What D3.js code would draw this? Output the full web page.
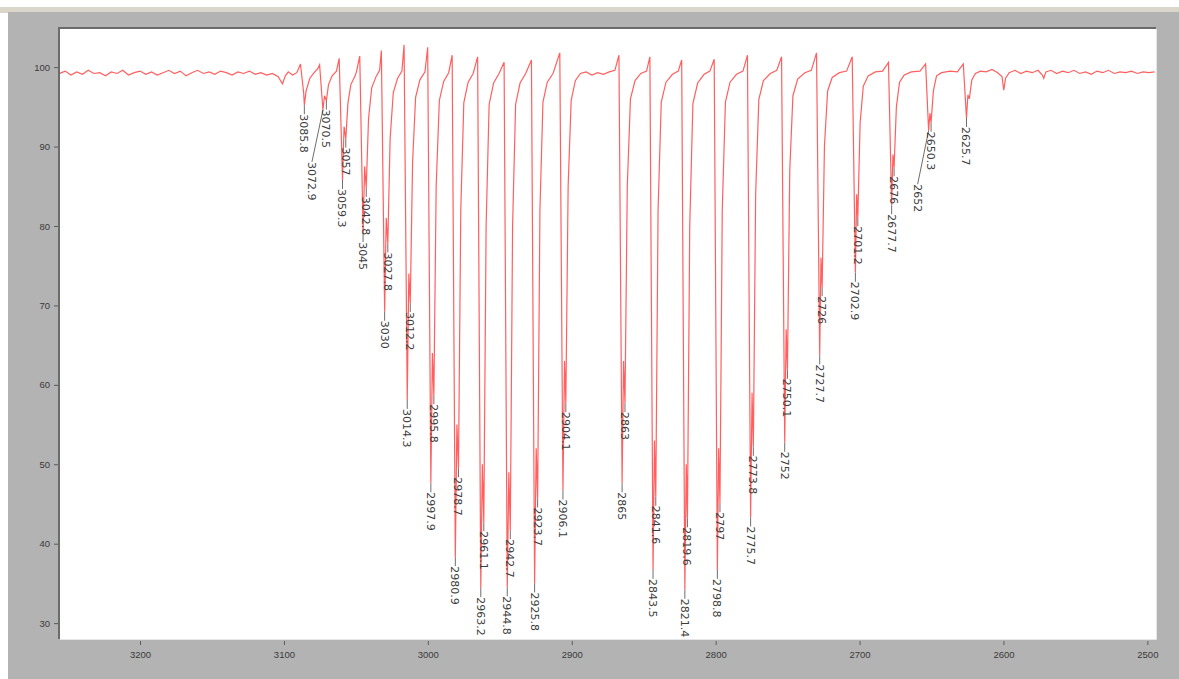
<!DOCTYPE html>
<html>
<head>
<meta charset="utf-8">
<script src="https://cdn.jsdelivr.net/npm/d3@7"></script>
<style>
  body { margin: 0; background: #fff; }
  .tick text { font-family: "Liberation Sans", Arial, sans-serif; font-size: 9.5px; fill: #3a3a3a; }
  .tick line { stroke: #5a5a5a; }
  .peak-label { font-family: "DejaVu Sans", sans-serif; font-size: 11px; fill: #3c3c3c; }
</style>
</head>
<body>
<div id="chart"></div>
<script>
// IR spectrum (wavenumber cm-1, % transmittance)
var spectrum = [
  [3256, 99.2], [3252, 99.5], [3248, 99.0], [3244, 99.4], [3240, 99.1], [3236, 99.6], [3232, 99.2], [3228, 99.3],
  [3224, 98.9], [3220, 99.4], [3216, 99.2], [3212, 99.6], [3208, 99.0], [3204, 99.3], [3200, 99.5], [3196, 99.1],
  [3192, 99.4], [3188, 99.0], [3184, 99.3], [3180, 99.6], [3176, 99.2], [3172, 99.5], [3168, 98.9], [3164, 99.3],
  [3160, 99.6], [3156, 99.2], [3152, 99.4], [3148, 99.1], [3144, 99.5], [3140, 99.3], [3136, 99.0], [3132, 99.4],
  [3128, 99.2], [3124, 99.5], [3120, 99.1], [3116, 99.3], [3112, 99.0], [3108, 99.2], [3104, 98.8], [3101, 97.9],
  [3099, 98.9], [3097, 99.4], [3094, 99.0], [3091, 99.3],
  [3088.5, 100.4], [3086.3, 96.8], [3085.8, 95.2], [3084.6, 97.0], [3083.6, 97.6], [3082, 98.6], [3079, 99.3], [3076.5, 99.8],
  [3075.2, 100.3], [3072.9, 94.6], [3071.8, 96.4], [3070.5, 95.8], [3069, 97.8], [3066.5, 98.9], [3063.5, 99.5],
  [3061.6, 101.1], [3059.3, 85.8], [3058.2, 92.5], [3057, 91.0], [3055.5, 95.5], [3053.5, 97.8], [3050.5, 98.9], [3049.5, 99.5],
  [3047.3, 101.4], [3045, 79.1], [3043.9, 87.5], [3042.8, 84.8], [3041.2, 93.5], [3039, 97.4], [3036, 98.8], [3033.5, 99.6],
  [3032.3, 102.1], [3030, 69.2], [3028.9, 81.0], [3027.8, 77.8], [3026.2, 91.0], [3024, 96.8], [3021, 98.6], [3018, 99.5],
  [3016.5, 102.8], [3014.3, 58.1], [3013.2, 74.0], [3012.2, 70.3], [3010.6, 88.0], [3008.5, 96.2], [3005.5, 98.4], [3002, 99.4],
  [3000.1, 102.5], [2997.9, 47.6], [2996.8, 64.0], [2995.8, 58.7], [2994.2, 85.0], [2992, 95.8], [2989, 98.2], [2985.5, 99.3],
  [2983.1, 101.5], [2980.9, 38.3], [2979.8, 55.0], [2978.7, 49.5], [2977.1, 82.0], [2975, 95.5], [2972, 98.1], [2968.5, 99.2],
  [2965.4, 101.3], [2963.2, 34.4], [2962.1, 50.0], [2961.1, 42.7], [2959.5, 80.0], [2957.4, 95.3], [2954.3, 98.0], [2950.5, 99.2],
  [2947, 100.6], [2944.8, 34.5], [2943.7, 49.0], [2942.7, 41.7], [2941.1, 80.0], [2939, 95.3], [2935.9, 98.0], [2932, 99.2],
  [2928, 100.9], [2925.8, 35.0], [2924.7, 52.0], [2923.7, 45.7], [2922.1, 82.0], [2920, 95.6], [2917, 98.1], [2913, 99.2],
  [2908.3, 101.8], [2906.1, 46.7], [2905, 63.0], [2904.1, 57.7], [2902.5, 85.0], [2900.4, 95.8], [2897.5, 98.3], [2894, 99.2],
  [2890, 99.4], [2886, 99.0], [2882, 99.3], [2878, 99.1], [2874, 99.4], [2870, 99.6],
  [2867.2, 101.5], [2865, 47.6], [2864, 63.0], [2863, 57.7], [2861.4, 85.0], [2859.2, 96.0], [2856, 98.3], [2852, 99.2], [2848, 99.5],
  [2845.7, 101.3], [2843.5, 36.7], [2842.5, 53.0], [2841.6, 45.9], [2840, 82.0], [2837.8, 95.6], [2834.5, 98.1], [2830, 99.1], [2826, 99.5],
  [2823.6, 100.9], [2821.4, 34.2], [2820.4, 50.0], [2819.6, 43.2], [2818, 80.0], [2815.8, 95.4], [2812.5, 98.0], [2808, 99.1], [2804, 99.5],
  [2801, 101.0], [2798.8, 36.7], [2797.9, 52.0], [2797, 45.1], [2795.4, 82.0], [2793.2, 95.6], [2790, 98.1], [2785.5, 99.1], [2781, 99.5],
  [2777.9, 101.5], [2775.7, 43.3], [2774.7, 59.0], [2773.8, 52.2], [2772.2, 84.0], [2770, 95.9], [2766.8, 98.3], [2762, 99.2], [2757.5, 99.6],
  [2754.2, 101.3], [2752, 52.7], [2751, 67.0], [2750.1, 61.9], [2748.5, 87.0], [2746.3, 96.4], [2743, 98.5], [2738, 99.3], [2733.5, 99.6],
  [2729.9, 101.8], [2727.7, 63.7], [2726.8, 76.0], [2726, 72.3], [2724.4, 90.0], [2722.2, 97.0], [2719, 98.7], [2714, 99.3], [2709, 99.5],
  [2705.1, 101.3], [2702.9, 74.1], [2702, 84.0], [2701.2, 81.1], [2699.6, 93.0], [2697.4, 97.6], [2694, 98.9], [2689, 99.4], [2684, 99.5],
  [2679.9, 100.6], [2677.7, 82.6], [2676.8, 89.0], [2676, 87.4], [2674.4, 95.0], [2672.2, 98.1], [2669, 99.0], [2664, 99.4], [2658, 99.5],
  [2654.1, 100.4], [2652, 92.0], [2651.1, 94.2], [2650.3, 93.0], [2648.7, 97.0], [2646.5, 98.9], [2643, 99.3], [2637, 99.5], [2632, 99.4],
  [2627.9, 100.4], [2625.7, 93.6], [2624.7, 96.5], [2623.7, 96.0], [2622, 98.4], [2619.5, 99.2], [2616, 99.5],
  [2612, 99.4], [2608, 99.7], [2604, 99.3], [2601, 98.8], [2599.8, 97.1], [2598.5, 98.6], [2596, 99.3], [2592, 99.6],
  [2588, 99.2], [2584, 99.5], [2580, 99.3], [2576, 99.6], [2573, 99.0], [2572, 98.6], [2570.5, 99.4], [2567, 99.6],
  [2563, 99.2], [2559, 99.5], [2555, 99.3], [2551, 99.6], [2547, 99.2], [2543, 99.4], [2539, 99.1], [2535, 99.5],
  [2531, 99.3], [2527, 99.6], [2523, 99.2], [2519, 99.4], [2515, 99.3], [2511, 99.5], [2507, 99.2], [2503, 99.4],
  [2499, 99.3], [2495, 99.4]
];

// picked peaks: label text, wavenumber, % T at the minimum
var peakLabels = ["3085.8", "3072.9", "3070.5", "3059.3", "3057", "3045", "3042.8", "3030", "3027.8",
  "3014.3", "3012.2", "2997.9", "2995.8", "2980.9", "2978.7", "2963.2", "2961.1", "2944.8", "2942.7",
  "2925.8", "2923.7", "2906.1", "2904.1", "2865", "2863", "2843.5", "2841.6", "2821.4", "2819.6",
  "2798.8", "2797", "2775.7", "2773.8", "2752", "2750.1", "2727.7", "2726", "2702.9", "2701.2",
  "2677.7", "2676", "2652", "2650.3", "2625.7"];
var peakWn = [3085.8, 3072.9, 3070.5, 3059.3, 3057, 3045, 3042.8, 3030, 3027.8,
  3014.3, 3012.2, 2997.9, 2995.8, 2980.9, 2978.7, 2963.2, 2961.1, 2944.8, 2942.7,
  2925.8, 2923.7, 2906.1, 2904.1, 2865, 2863, 2843.5, 2841.6, 2821.4, 2819.6,
  2798.8, 2797, 2775.7, 2773.8, 2752, 2750.1, 2727.7, 2726, 2702.9, 2701.2,
  2677.7, 2676, 2652, 2650.3, 2625.7];
var peakT = [95.2, 94.6, 95.8, 85.8, 91.0, 79.1, 84.8, 69.2, 77.8,
  58.1, 70.3, 47.6, 58.7, 38.3, 49.5, 34.4, 42.7, 34.5, 41.7,
  35.0, 45.7, 46.7, 57.7, 47.6, 57.7, 36.7, 45.9, 34.2, 43.2,
  36.7, 45.1, 43.3, 52.2, 52.7, 61.9, 63.7, 72.3, 74.1, 81.1,
  82.6, 87.4, 92.0, 93.0, 93.6];

var xTicks = [3200, 3100, 3000, 2900, 2800, 2700, 2600, 2500];
var yTicks = [30, 40, 50, 60, 70, 80, 90, 100];

var width = 1179, height = 679;
var plot = { left: 60, top: 29, right: 1156, bottom: 639 };

var svg = d3.select("#chart").append("svg")
    .attr("width", width)
    .attr("height", height);

// window chrome around the plot
svg.append("rect").attr("x", 0).attr("y", 7).attr("width", width).attr("height", 6).style("fill", "#dad7ca");
svg.append("rect").attr("x", 8).attr("y", 12).attr("width", width - 8).attr("height", height - 12).style("fill", "#b3b3b3");
svg.append("rect")
    .attr("x", plot.left).attr("y", plot.top)
    .attr("width", plot.right - plot.left).attr("height", plot.bottom - plot.top)
    .style("fill", "#fff");
// sunken border
svg.append("path")
    .attr("d", "M" + (plot.left - 1) + "," + plot.bottom + "V" + (plot.top - 1) + "H" + plot.right)
    .style("fill", "none").style("stroke", "#6b6b6b").style("stroke-width", 2);
svg.append("path")
    .attr("d", "M" + plot.left + "," + (plot.bottom + 0.5) + "H" + (plot.right + 0.5) + "V" + plot.top)
    .style("fill", "none").style("stroke", "#e6e6e6").style("stroke-width", 1);

var x = d3.scaleLinear().domain([3255.6, 2494]).range([plot.left, plot.right]);
var y = d3.scaleLinear().domain([28, 104.8]).range([plot.bottom, plot.top]);

var xAxis = d3.axisBottom(x).tickValues(xTicks).tickSize(4).tickPadding(6).tickFormat(d3.format("d"));
var yAxis = d3.axisLeft(y).tickValues(yTicks).tickSize(4).tickPadding(4).tickFormat(d3.format("d"));

svg.append("g")
    .attr("class", "x axis")
    .attr("transform", "translate(0," + (plot.bottom + 2) + ")")
    .call(xAxis)
    .call(g => g.select(".domain").remove());

svg.append("g")
    .attr("class", "y axis")
    .attr("transform", "translate(" + (plot.left - 2) + ",0)")
    .call(yAxis)
    .call(g => g.select(".domain").remove());

// the trace
var line = d3.line()
    .x(d => x(d[0]))
    .y(d => y(d[1]));

svg.append("defs").append("clipPath").attr("id", "clip")
    .append("rect")
    .attr("x", plot.left).attr("y", plot.top)
    .attr("width", plot.right - plot.left).attr("height", plot.bottom - plot.top);

svg.append("path")
    .datum(spectrum)
    .attr("clip-path", "url(#clip)")
    .attr("d", line)
    .style("fill", "none")
    .style("stroke", "#ff2a2a")
    .style("stroke-width", 1.2)
    .style("stroke-opacity", 0.75);

// Peak labels: each one hangs below its minimum on a short leader.
// Shallow peaks are placed first; a label that would sit on an earlier one
// is pushed down and to the left with a slanted leader.
var gap = 9;
var labels = svg.append("g").attr("class", "labels");
var placed = [];
var order = d3.range(peakLabels.length).sort((a, b) => peakT[b] - peakT[a]);

order.forEach(function(i) {
    var px = x(peakWn[i]), py = y(peakT[i]);
    var t = labels.append("text")
        .attr("class", "peak-label")
        .text(peakLabels[i]);
    var len = t.node().getComputedTextLength();

    var lx = px, ly = py + gap;
    var hit = placed.find(p => Math.abs(p.x - lx) < 9 && ly < p.y1 && ly + len > p.y0);
    if (hit) {
        lx = px - 11;
        ly = hit.y1 + 14;
    }
    placed.push({ x: lx, y0: ly, y1: ly + len });

    labels.insert("line", "text")
        .attr("x1", px).attr("y1", py)
        .attr("x2", lx).attr("y2", ly)
        .style("stroke", "#6e6e6e")
        .style("stroke-width", 1);

    t.attr("transform", "translate(" + (lx - 4) + "," + ly + ") rotate(90)");
});
</script>
</body>
</html>
